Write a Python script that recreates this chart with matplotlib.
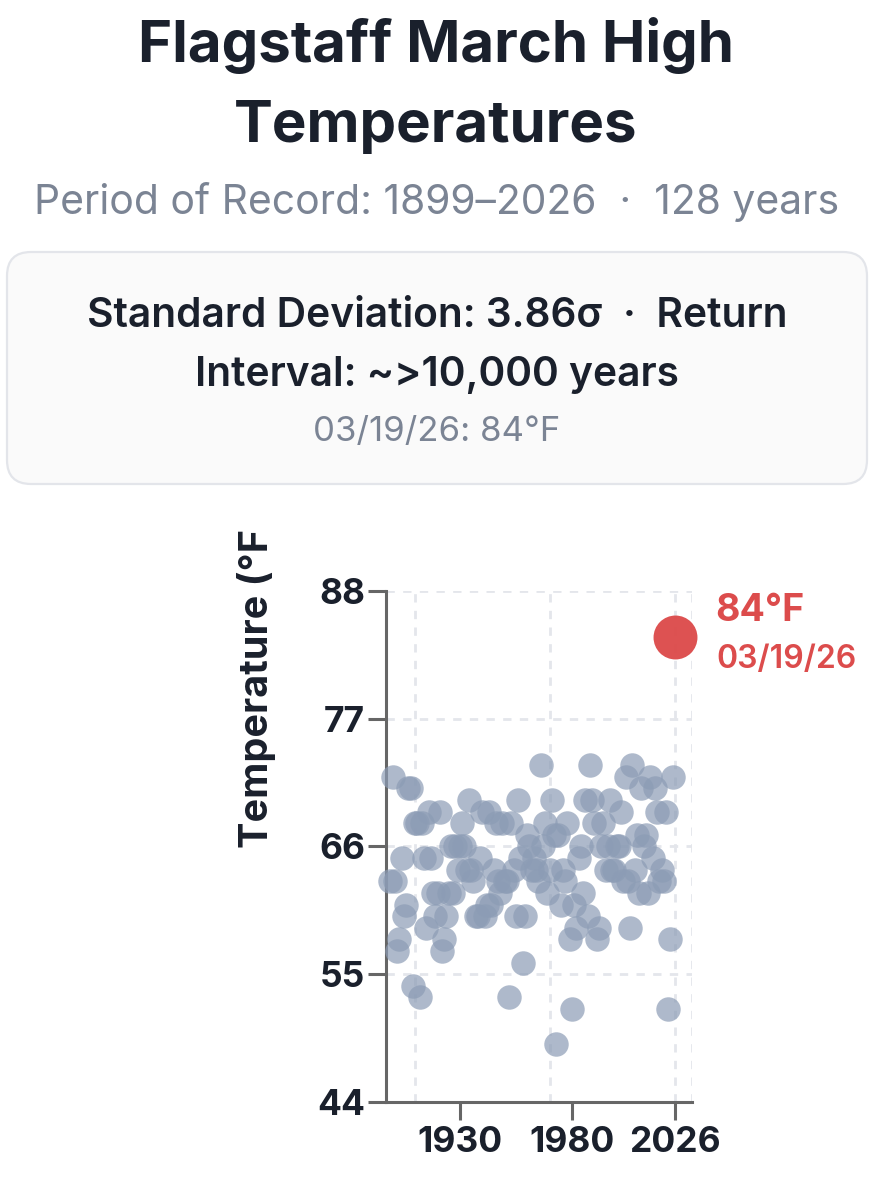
import matplotlib
matplotlib.use("Agg")
import matplotlib.pyplot as plt
from matplotlib.patches import FancyBboxPatch

plt.rcParams['font.family'] = ['Inter', 'DejaVu Sans']

W, H = 896, 1200

years = list(range(1899, 2026))
temps = [63, 72, 63, 57, 58, 65, 60, 61, 71, 71, 54, 68, 68, 53, 68, 65, 59, 69, 65, 62, 60,
         62, 69, 57, 58, 60, 62, 66, 62, 66, 64, 66, 68, 66, 64, 70, 64, 63, 60, 60, 65,
         69, 60, 61, 69, 61, 64, 68, 63, 62, 68, 63, 63, 53, 68, 64, 60, 70, 65, 56, 60,
         67, 66, 64, 65, 64, 63, 73, 66, 68, 62, 64, 70, 67, 49, 67, 61, 64, 63, 68, 58,
         52, 61, 59, 65, 66, 62, 70, 60, 73, 70, 68, 58, 59, 66, 68, 64, 66, 70, 64, 64,
         66, 66, 69, 63, 72, 63, 59, 73, 64, 67, 62, 71, 66, 67, 62, 72, 65, 71, 69, 63,
         64, 63, 69, 52, 58, 72]
record_year = 2026
record_temp = 84
record_date = "03/19/26"

y_ticks = [44, 55, 66, 77, 88]
x_ticks = [1930, 1980, 2026]
x_grid = [1910, 1970, 2026, 2033.6]
y_grid = [55, 66, 77, 88]

dark = "#1a202c"
axis_grey = "#666666"
grid_grey = "#e4e6eb"
muted = "#7b8494"
point_col = "#8c9cb5"
red = "#dc4c4c"

fig = plt.figure(figsize=(W / 100, H / 100), dpi=100)

# page layer in pixel coordinates
bg = fig.add_axes([0, 0, 1, 1])
bg.set_xlim(0, W)
bg.set_ylim(H, 0)
bg.axis("off")

bg.text(436, 46, "Flagstaff March High", ha="center", va="center", fontsize=41.9, fontweight="bold", color=dark)
bg.text(436, 127, "Temperatures", ha="center", va="center", fontsize=41.9, fontweight="bold", color=dark)
bg.text(437, 202, "Period of Record: 1899\u20132026  \u00b7  128 years", ha="center", va="center", fontsize=29.4, color=muted)

bg.add_patch(FancyBboxPatch((7 + 24, 252 + 24), 860 - 48, 232 - 48, boxstyle="round,pad=24,rounding_size=24",
                            facecolor="#fafafa", edgecolor="#e3e5ea", linewidth=1.6))
bg.text(437, 316, "Standard Deviation: 3.86\u03c3  \u00b7  Return", ha="center", va="center", fontsize=29.3, fontweight="semibold", color=dark)
bg.text(437, 375, "Interval: ~>10,000 years", ha="center", va="center", fontsize=29.3, fontweight="semibold", color=dark)
bg.text(437, 432, "03/19/26: 84\u00b0F", ha="center", va="center", fontsize=25, color=muted)

bg.text(257, 688, "Temperature (\u00b0F", rotation=90, ha="center", va="center", fontsize=28.5, fontweight="bold", color=dark)

# chart
ax = fig.add_axes([386 / W, 1 - 1102 / H, (692 - 386) / W, (1102 - 591) / H])
ax.set_xlim(1897, 2033.6)
ax.set_ylim(44, 88)
ax.patch.set_alpha(0)

for x in x_grid:
    ax.axvline(x, color=grid_grey, lw=2, dashes=(3, 3), zorder=1)
for y in y_grid:
    ax.axhline(y, color=grid_grey, lw=2, dashes=(3, 3), zorder=1)

ax.scatter(years, temps, s=310, color=point_col, alpha=0.7, linewidths=0, zorder=3, clip_on=False)
ax.scatter([record_year], [record_temp], s=1000, color=red, alpha=0.97, linewidths=0, zorder=4, clip_on=False)

ax.annotate(f"{record_temp}\u00b0F", (record_year, record_temp), xytext=(29, 19), textcoords="offset points",
            fontsize=27, fontweight="bold", color=red, va="center", annotation_clip=False)
bg.text(716, 659, record_date, ha="left", va="center", fontsize=23, fontweight="semibold", color=red)

for side in ["top", "right"]:
    ax.spines[side].set_visible(False)
for side in ["left", "bottom"]:
    ax.spines[side].set_color(axis_grey)
    ax.spines[side].set_linewidth(2.2)

ax.set_yticks(y_ticks)
ax.set_xticks(x_ticks)
ax.tick_params(axis="both", length=13, width=2.2, color=axis_grey, labelcolor=dark, labelsize=25.5)
ax.tick_params(axis="x", pad=4)
ax.tick_params(axis="y", pad=2)
for lab in ax.get_xticklabels() + ax.get_yticklabels():
    lab.set_fontweight("bold")

fig.savefig("out.png", dpi=100)
